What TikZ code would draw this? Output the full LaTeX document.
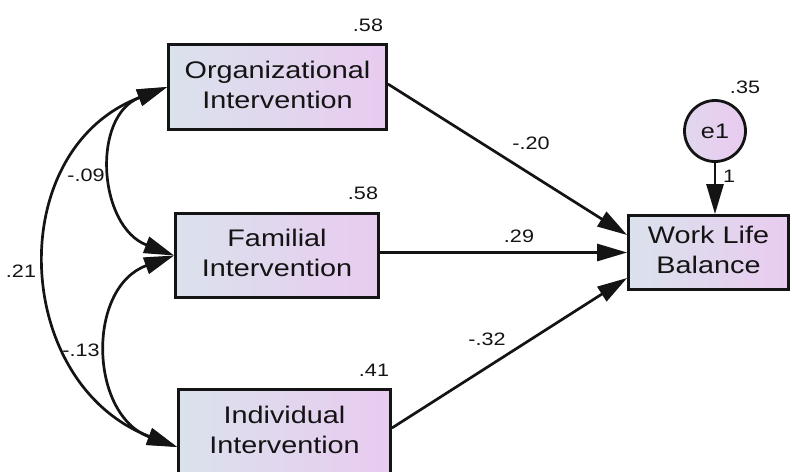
\documentclass[tikz,border=0pt]{standalone}
\usepackage{fontspec}
\setmainfont{Liberation Sans}
\usetikzlibrary{arrows.meta}
\definecolor{boxL}{RGB}{218,226,236}
\definecolor{boxR}{RGB}{233,203,240}
\definecolor{ink}{RGB}{20,20,20}
\newcommand\bxt[1]{\scalebox{1.2}[1]{\begin{tabular}{@{}c@{}}#1\end{tabular}}}
\newcommand\lbt[1]{\scalebox{1.2}[1]{#1}}
\begin{document}
\begin{tikzpicture}[x=1pt,y=-1pt,
  var/.style={draw=ink, line width=2.8pt, left color=boxL, right color=boxR, inner sep=0pt, font=\fontsize{24}{30}\selectfont, text=ink},
  errnode/.style={circle, draw=ink, line width=2.8pt, left color=boxL!50!boxR, right color=boxR, minimum size=61pt, inner sep=0pt, font=\fontsize{21}{24}\selectfont, text=ink},
  est/.style={font=\fontsize{18}{20}\selectfont, text=ink, inner sep=0pt},
  regarrow/.style={draw=ink, line width=2.7pt, -{Triangle[length=30pt,width=17pt]}},
  covarrow/.style={draw=ink, line width=2.7pt, {Triangle[length=30pt,width=17pt]}-{Triangle[length=30pt,width=17pt]}},
]
\useasboundingbox (0,0) rectangle (792,471);
\clip (0,0) rectangle (792,471);
\fill[white] (0,0) rectangle (792,471);

\node[var, minimum width=218pt, minimum height=85pt] (org) at (277.5,87) {\bxt{Organizational\\Intervention}};
\node[var, minimum width=203pt, minimum height=84pt] (fam) at (277,255.5) {\bxt{Familial\\Intervention}};
\node[var, minimum width=212pt, minimum height=85pt] (ind) at (284.5,432) {\bxt{Individual\\Intervention}};
\node[var, minimum width=160pt, minimum height=74pt] (wlb) at (708.5,252.5) {\bxt{Work Life\\Balance}};
\node[errnode] (e1) at (715,131) {\lbt{e1}};

\draw[regarrow] ([yshift=3pt]org.east) -- ([yshift=17.5pt]wlb.west);
\draw[regarrow] ([yshift=3pt]fam.east) -- (wlb.west);
\draw[regarrow] ([yshift=4pt]ind.east) -- ([yshift=-25.5pt]wlb.west);
\draw[regarrow] (e1.south) -- (e1.south |- wlb.north);

\draw[covarrow] (org.west) .. controls +(-165,63) and +(-165,-63) .. ([yshift=-15pt]ind.west);
\draw[covarrow] (org.west) .. controls +(-76,29) and +(-76,-29) .. (fam.west);
\draw[covarrow] (fam.west) .. controls +(-88,32) and +(-88,-32) .. ([yshift=-15pt]ind.west);

\node[est] (vorg) at (368,25) {\lbt{.58}};
\node[est] (vfam) at (363,193) {\lbt{.58}};
\node[est] (vind) at (374,370) {\lbt{.41}};
\node[est] (vwlb) at (745,87) {\lbt{.35}};
\node[est] (borg) at (531,143) {\lbt{-.20}};
\node[est] (bfam) at (519,236) {\lbt{.29}};
\node[est] (bind) at (487,339) {\lbt{-.32}};
\node[est] (be1) at (729,176) {\lbt{1}};
\node[est] (c1) at (86,175) {\lbt{-.09}};
\node[est] (c2) at (21,271) {\lbt{.21}};
\node[est] (c3) at (81,350) {\lbt{-.13}};
\end{tikzpicture}
\end{document}
